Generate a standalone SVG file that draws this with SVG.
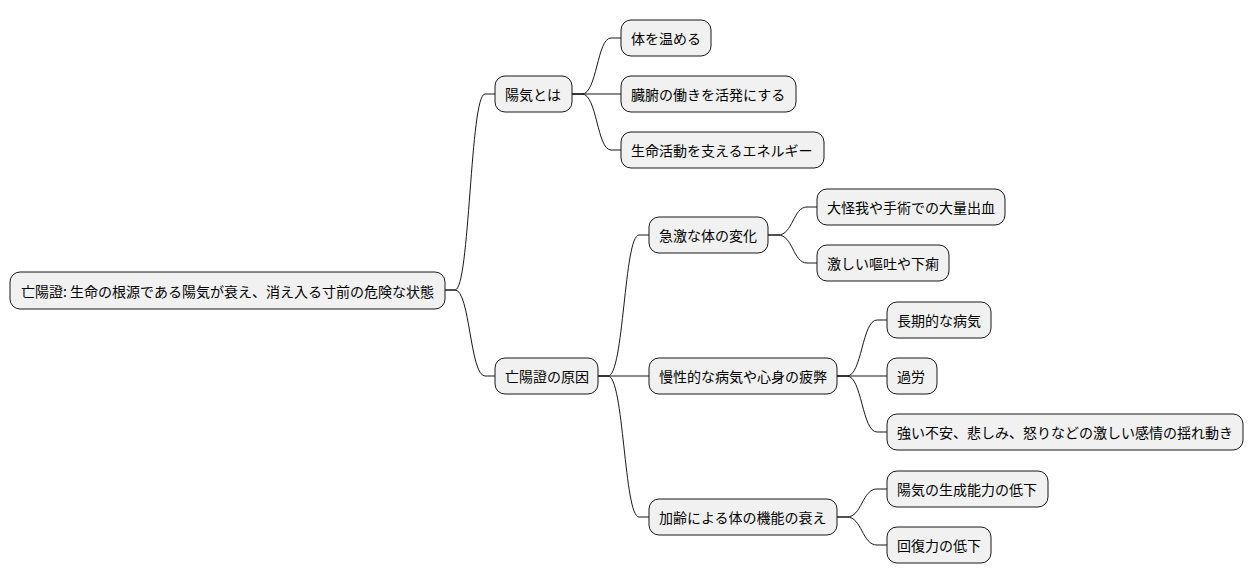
<svg xmlns="http://www.w3.org/2000/svg" width="1254" height="583" viewBox="0 0 1254 583">
<style>
.n rect{fill:#F1F1F1;stroke:#181818;stroke-width:1;}
.n text{font-family:"Noto Sans CJK JP","Liberation Sans",sans-serif;font-size:14px;fill:#000;dominant-baseline:central;}
#edges path{fill:none;stroke:#181818;stroke-width:1;}
</style>
<rect width="1254" height="583" fill="#FFFFFF"/>
<g id="edges">
<path d="M445,290 L455,290 C470,290 470,94 485,94 L495,94"/>
<path d="M445,290 L455,290 C470,290 470,376 485,376 L495,376"/>
<path d="M572,94 L582,94 C597,94 597,38 611,38 L621,38"/>
<path d="M572,94 L621,94"/>
<path d="M572,94 L582,94 C597,94 597,150 611,150 L621,150"/>
<path d="M598,376 L608,376 C624,376 624,235 639,235 L649,235"/>
<path d="M598,376 L649,376"/>
<path d="M598,376 L608,376 C624,376 624,517 639,517 L649,517"/>
<path d="M768,235 L778,235 C793,235 793,207 807,207 L817,207"/>
<path d="M768,235 L778,235 C793,235 793,263 807,263 L817,263"/>
<path d="M837,376 L847,376 C862,376 862,320 877,320 L887,320"/>
<path d="M837,376 L887,376"/>
<path d="M837,376 L847,376 C862,376 862,432 877,432 L887,432"/>
<path d="M837,517 L847,517 C862,517 862,489 877,489 L887,489"/>
<path d="M837,517 L847,517 C862,517 862,545 877,545 L887,545"/>
</g>
<g id="root" class="n"><rect x="10" y="272" width="435" height="37" rx="10"/><text x="21" y="290.5">亡陽證: 生命の根源である陽気が衰え、消え入る寸前の危険な状態</text></g>
<g id="n1" class="n"><rect x="495" y="76" width="77" height="36" rx="10"/><text x="505" y="94">陽気とは</text></g>
<g id="n11" class="n"><rect x="621" y="20" width="90" height="36" rx="10"/><text x="631" y="38">体を温める</text></g>
<g id="n12" class="n"><rect x="621" y="76" width="175" height="36" rx="10"/><text x="631" y="94">臓腑の働きを活発にする</text></g>
<g id="n13" class="n"><rect x="621" y="132" width="203" height="36" rx="10"/><text x="631" y="150">生命活動を支えるエネルギー</text></g>
<g id="n2" class="n"><rect x="495" y="358" width="103" height="36" rx="10"/><text x="505" y="376">亡陽證の原因</text></g>
<g id="n21" class="n"><rect x="649" y="217" width="119" height="36" rx="10"/><text x="659" y="235">急激な体の変化</text></g>
<g id="n211" class="n"><rect x="817" y="189" width="188" height="36" rx="10"/><text x="827" y="207">大怪我や手術での大量出血</text></g>
<g id="n212" class="n"><rect x="817" y="245" width="132" height="36" rx="10"/><text x="827" y="263">激しい嘔吐や下痢</text></g>
<g id="n22" class="n"><rect x="649" y="358" width="188" height="36" rx="10"/><text x="659" y="376">慢性的な病気や心身の疲弊</text></g>
<g id="n221" class="n"><rect x="887" y="302" width="104" height="36" rx="10"/><text x="897" y="320">長期的な病気</text></g>
<g id="n222" class="n"><rect x="887" y="358" width="50" height="36" rx="10"/><text x="897" y="376">過労</text></g>
<g id="n223" class="n"><rect x="887" y="414" width="356" height="36" rx="10"/><text x="897" y="432">強い不安、悲しみ、怒りなどの激しい感情の揺れ動き</text></g>
<g id="n23" class="n"><rect x="649" y="499" width="188" height="36" rx="10"/><text x="659" y="517">加齢による体の機能の衰え</text></g>
<g id="n231" class="n"><rect x="887" y="471" width="161" height="36" rx="10"/><text x="897" y="489">陽気の生成能力の低下</text></g>
<g id="n232" class="n"><rect x="887" y="527" width="104" height="36" rx="10"/><text x="897" y="545">回復力の低下</text></g>
</svg>
